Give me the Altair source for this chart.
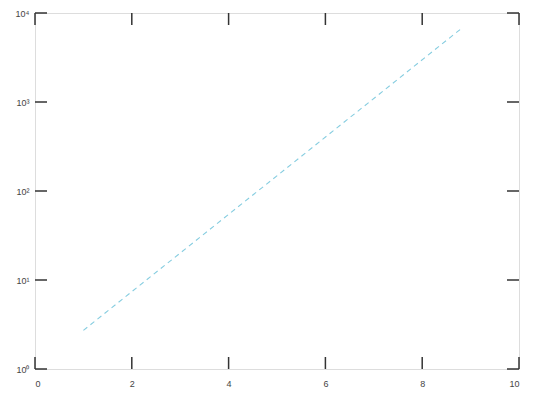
import altair as alt
import pandas as pd

# data (end points of the straight line on the log axis)
xs = [1.0, 8.8]
ys = [2.72, 6630.0]
x_ticks = [0, 2, 4, 6, 8, 10]
y_ticks = [1, 10, 100, 1000, 10000]

df = pd.DataFrame({"x": xs, "y": ys})
xt = pd.DataFrame({"x": x_ticks})
yt = pd.DataFrame({"y": y_ticks})

W, H = 484, 356
TL = 12
sup_expr = "'10' + ['⁰','¹','²','³','⁴','⁵'][round(log(datum.value)/log(10))]"

xscale = alt.Scale(domain=[0, 10], nice=False, zero=False)
yscale = alt.Scale(type="log", domain=[1, 10000], nice=False)

lbl = dict(labelFont="Liberation Sans", labelFontSize=9, labelColor="#444444",
           ticks=False, domain=False, grid=False, title=None)

line = alt.Chart(df).mark_line(
    color="#86cde0", strokeDash=[5, 4], strokeWidth=1.1
).encode(
    x=alt.X("x:Q", scale=xscale, axis=alt.Axis(values=x_ticks, labelPadding=10, **lbl)),
    y=alt.Y("y:Q", scale=yscale, axis=alt.Axis(values=y_ticks, labelPadding=6,
                                              labelExpr=sup_expr, **lbl)),
)

tick_mark = dict(color="#333333", strokeWidth=1.5)

bottom_ticks = alt.Chart(xt).mark_rule(**tick_mark).encode(
    x=alt.X("x:Q", scale=xscale), y=alt.value(H), y2=alt.value(H - TL))
top_ticks = alt.Chart(xt).mark_rule(**tick_mark).encode(
    x=alt.X("x:Q", scale=xscale), y=alt.value(0), y2=alt.value(TL))
left_ticks = alt.Chart(yt).mark_rule(**tick_mark).encode(
    y=alt.Y("y:Q", scale=yscale), x=alt.value(0), x2=alt.value(TL))
right_ticks = alt.Chart(yt).mark_rule(**tick_mark).encode(
    y=alt.Y("y:Q", scale=yscale), x=alt.value(W - TL), x2=alt.value(W))

chart = alt.layer(line, bottom_ticks, top_ticks, left_ticks, right_ticks).properties(
    width=W, height=H,
    autosize=alt.AutoSizeParams(type="none"),
    padding={"left": 27, "top": 5, "right": 19, "bottom": 25},
).configure_view(stroke="#aaaaaa", strokeWidth=1.5).configure(background="white")

chart.save("out.html", embed_options={"renderer": "svg", "actions": False})
